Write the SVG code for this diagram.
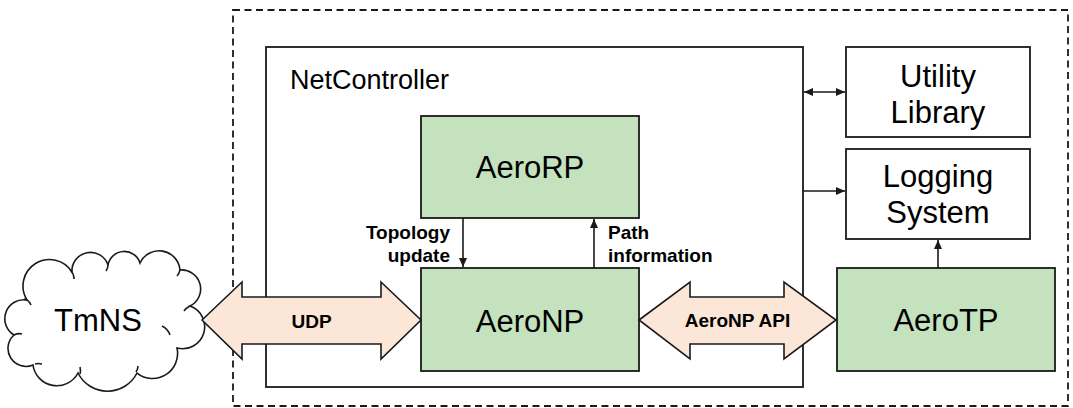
<svg xmlns="http://www.w3.org/2000/svg" width="1073" height="408" viewBox="0 0 1073 408">
  <style>
    .box { fill: #ffffff; stroke: #1a1a1a; stroke-width: 1.8; }
    .mod { fill: #c3e2bd; stroke: #1a1a1a; stroke-width: 1.8; }
    .bigarrow { fill: #fce6d8; stroke: #1a1a1a; stroke-width: 1.6; stroke-linejoin: miter; }
    .conn { fill: none; stroke: #1a1a1a; stroke-width: 1.6; }
    .big { font-family: "Liberation Sans", Arial, sans-serif; font-size: 31px; fill: #000; text-anchor: middle; }
    .lbl { font-family: "Liberation Sans", Arial, sans-serif; font-size: 19px; font-weight: bold; fill: #000; }
  </style>
  <defs>
    <marker id="head" markerUnits="userSpaceOnUse" markerWidth="10" markerHeight="8" refX="9" refY="4" orient="auto-start-reverse">
      <path d="M0,0 L9,4 L0,8 z" fill="#1a1a1a"/>
    </marker>
  </defs>

  <rect width="1073" height="408" fill="#ffffff"/>

  <!-- outer dashed boundary -->
  <rect id="system-boundary" x="233" y="10" width="835" height="396" fill="none" stroke="#1a1a1a" stroke-width="1.8" stroke-dasharray="7 4.5"/>

  <!-- NetController container -->
  <g id="netcontroller">
    <rect class="box" x="266" y="47" width="537" height="340"/>
    <text x="290" y="89" font-family="Liberation Sans, Arial, sans-serif" font-size="27" fill="#000">NetController</text>
  </g>

  <g id="utility-library">
    <rect class="box" x="846" y="47" width="184" height="90"/>
    <text class="big" x="938" y="87">Utility</text>
    <text class="big" x="938" y="123">Library</text>
  </g>

  <g id="logging-system">
    <rect class="box" x="846" y="149" width="184" height="90"/>
    <text class="big" x="938" y="187">Logging</text>
    <text class="big" x="938" y="223">System</text>
  </g>

  <g id="aerorp">
    <rect class="mod" x="421" y="116" width="218" height="102"/>
    <text class="big" x="530" y="178">AeroRP</text>
  </g>

  <g id="aeronp">
    <rect class="mod" x="421" y="268" width="218" height="103"/>
    <text class="big" x="530" y="332">AeroNP</text>
  </g>

  <g id="aerotp">
    <rect class="mod" x="837" y="268" width="218" height="103"/>
    <text class="big" x="946" y="331">AeroTP</text>
  </g>

  <g id="tmns">
    <path fill="#ffffff" stroke="#1a1a1a" stroke-width="1.6" d="M27,300 A26,26 0 0 1 72,272 A18.5,18.5 0 0 1 108,265 A16.5,16.5 0 0 1 140,263 A21,21 0 0 1 180,270 A19,19 0 0 1 190,306 A22,22 0 0 1 177,348 A25,25 0 0 1 137,373 A33,33 0 0 1 78,373 A24,24 0 0 1 33,365 A18,18 0 0 1 14,335 A19,19 0 0 1 27,300 Z"/>
    <!-- inner lobe creases -->
    <path fill="none" stroke="#1a1a1a" stroke-width="1.6" d="M24,299 Q29,300 31,305 M71,271 Q74,274 74,279 M108,265 Q108,268 106,271 M180,270 Q179,274 177,276 M190,306 Q186,308 184,311 M162,326 Q168,329 170,335 M136,372 Q138,369 138,366 M80,374 Q81,371 80,367 M35,364 Q38,363 42,364 M14,335 Q18,333 22,334"/>
    <text class="big" x="98" y="331">TmNS</text>
  </g>

  <!-- connectors -->
  <g id="connectors">
    <line class="conn" x1="463" y1="218" x2="463" y2="267" marker-end="url(#head)"/>
    <line class="conn" x1="594" y1="268" x2="594" y2="219" marker-end="url(#head)"/>
    <line class="conn" x1="804" y1="92" x2="845" y2="92" marker-start="url(#head)" marker-end="url(#head)"/>
    <line class="conn" x1="803" y1="191" x2="845" y2="191" marker-end="url(#head)"/>
    <line class="conn" x1="938" y1="268" x2="938" y2="240" marker-end="url(#head)"/>

    <!-- UDP block arrow -->
    <path class="bigarrow" d="M202,320 L242,282 L242,297 L381,297 L381,282 L421,320 L381,359 L381,344 L242,344 L242,359 Z"/>
    <!-- AeroNP API block arrow -->
    <path class="bigarrow" d="M639,320 L690,282 L690,297 L784,297 L784,282 L836,320 L784,359 L784,344 L690,344 L690,359 Z"/>
  </g>

  <g id="labels">
    <text class="lbl" x="311.5" y="328" text-anchor="middle">UDP</text>
    <text class="lbl" x="737.5" y="327" text-anchor="middle">AeroNP API</text>
    <text class="lbl" x="450" y="239" text-anchor="end">Topology</text>
    <text class="lbl" x="450" y="262" text-anchor="end">update</text>
    <text class="lbl" x="608" y="239">Path</text>
    <text class="lbl" x="608" y="262">information</text>
  </g>
</svg>
